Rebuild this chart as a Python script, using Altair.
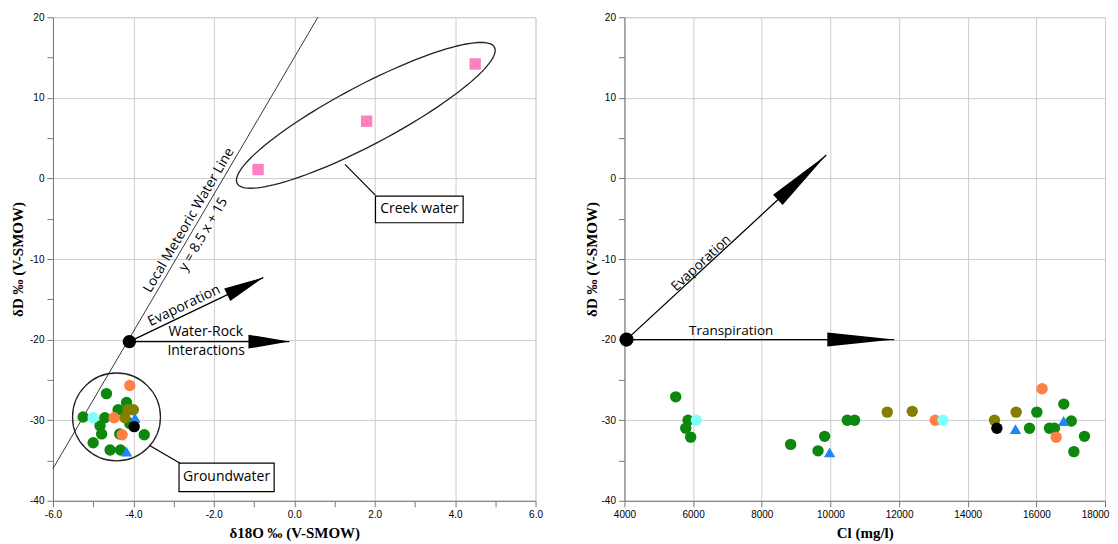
import math
import altair as alt
import pandas as pd

WL, WR, H = 483, 481, 484
LX = [-6, 6]
LY = [-40, 20]
RX = [4000, 18000]
RY = [-40, 20]

# ---------------- left panel data: d18O vs dD ----------------
creek_o18 = [-0.9, 1.8, 4.5]
creek_dD = [1.1, 7.1, 14.2]

gw_o18 = [-4.67, -4.17, -4.38, -5.25, -4.71, -4.83, -4.09, -4.79, -4.34, -3.73, -5.0, -4.58, -4.32,
          -4.09, -4.48, -4.28,
          -4.13, -4.0, -4.21,
          -5.0,
          -3.96, -4.17,
          -3.98]
gw_dD = [-26.7, -27.8, -28.7, -29.6, -29.7, -30.7, -30.4, -31.7, -31.7, -31.8, -32.8, -33.7, -33.7,
         -25.7, -29.7, -31.8,
         -28.7, -28.7, -29.7,
         -29.7,
         -29.7, -33.9,
         -30.8]
gw_grp = ["green"] * 13 + ["orange"] * 3 + ["olive"] * 3 + ["cyan"] + ["blue"] * 2 + ["black"]

# ---------------- right panel data: Cl vs dD ----------------
cl_vals = [5494, 5854, 5785, 5930, 10492, 10705, 9832, 8842, 9640, 16014, 16800, 15800, 16382, 16527, 17019, 17402, 17093,
           13054, 16167, 16577,
           11656, 12385, 14780, 15412,
           6096, 13278,
           9977, 15392, 16795,
           14850]
cl_dD = [-27.1, -30.0, -31.0, -32.1, -30.0, -30.0, -32.0, -33.0, -33.8, -29.0, -28.0, -31.0, -31.0, -31.0, -30.1, -32.0, -33.9,
         -30.0, -26.1, -32.1,
         -29.0, -28.9, -30.0, -29.0,
         -30.0, -30.0,
         -34.0, -31.1, -30.1,
         -31.0]
cl_grp = ["green"] * 17 + ["orange"] * 3 + ["olive"] * 4 + ["cyan"] * 2 + ["blue"] * 3 + ["black"]

groups = ["creek", "green", "orange", "olive", "cyan", "blue", "black"]
group_colors = ["#ff80c0", "#0e870e", "#ff7f45", "#857f00", "#80ffff", "#1e88f5", "#000000"]
group_shapes = ["square", "circle", "circle", "circle", "circle", "triangle-up", "circle"]

# ---------------- annotations ----------------
mwl_slope, mwl_icpt = 8.5, 15
origin_left = [-4.1, -20.25]
evap_tip_left = [-0.77, -12.3]
wr_tip_left = [-0.12, -20.25]
origin_right = [4060, -20.0]
evap_tip_right = [9880, 2.9]
trans_tip_right = [11860, -20.0]

ellipse_center = [1.78, 7.83]
ellipse_axes_px = [145.7, 29.5]
ellipse_tilt_deg = 27.9
gw_circle_center = [-4.42, -29.6]
gw_circle_radius_px = 44

creek_leader = [1.262, 1.74, 2.016, -2.07]
creek_box = [2.02, -2.19, 4.2, -5.5]
gw_leader = [-3.586, -33.18, -2.839, -35.33]
gw_box = [-2.865, -35.33, -0.5, -38.85]

ANN_FONT = "Open Sans"


def px_angle(p0, p1, xd, yd, w):
    dx = (p1[0] - p0[0]) / (xd[1] - xd[0]) * w
    dy = -(p1[1] - p0[1]) / (yd[1] - yd[0]) * H
    return math.degrees(math.atan2(dy, dx)) % 360


def head(tip, ang, length, half):
    r = half / length
    path = f"M0,0L-1,{-r:.4f}L-1,{r:.4f}Z"
    df = pd.DataFrame({"x": [tip[0]], "y": [tip[1]]})
    return alt.Chart(df).mark_point(shape=path, size=(2 * length) ** 2, angle=ang, filled=True,
                                    color="black", opacity=1, strokeWidth=0).encode(x="x:Q", y="y:Q")


def seg(p0, p1, sw=1.2):
    df = pd.DataFrame({"x": [p0[0]], "y": [p0[1]], "x2": [p1[0]], "y2": [p1[1]]})
    return alt.Chart(df).mark_rule(color="black", strokeWidth=sw).encode(x="x:Q", y="y:Q", x2="x2:Q", y2="y2:Q")


def label(x, y, txt, ang=0, size=14):
    df = pd.DataFrame({"x": [x], "y": [y], "t": [txt]})
    return alt.Chart(df).mark_text(font=ANN_FONT, fontSize=size, color="black", angle=ang).encode(
        x="x:Q", y="y:Q", text="t:N")


def box(b):
    df = pd.DataFrame({"x": [b[0]], "y": [b[1]], "x2": [b[2]], "y2": [b[3]]})
    return alt.Chart(df).mark_rect(fill="white", stroke="black", strokeWidth=1.2).encode(
        x="x:Q", y="y:Q", x2="x2:Q", y2="y2:Q")


def dot(p, size):
    df = pd.DataFrame({"x": [p[0]], "y": [p[1]]})
    return alt.Chart(df).mark_point(shape="circle", size=size, filled=True, color="black", opacity=1).encode(
        x="x:Q", y="y:Q")


axis_common = dict(labelFont="Liberation Sans", labelFontSize=10, labelColor="black", labelFlush=False,
                   titleFont="Liberation Serif", titleFontSize=15, titleFontWeight="bold", titleColor="black",
                   domainColor="#777777", tickColor="#777777", tickSize=6, gridColor="#cccccc", labelPadding=3)

xl = alt.X("x:Q", scale=alt.Scale(domain=LX, nice=False, zero=False),
           axis=alt.Axis(values=list(range(-6, 7)), title="δ18O ‰ (V-SMOW)", titlePadding=6,
                         labelExpr="datum.value % 2 == 0 ? (datum.value < 0 ? '-' : '') + format(abs(datum.value), '.1f') : ''",
                         gridOpacity={"condition": {"test": "datum.value % 2 == 0", "value": 1}, "value": 0},
                         **axis_common))
yl = alt.Y("y:Q", scale=alt.Scale(domain=LY, nice=False, zero=False),
           axis=alt.Axis(values=list(range(-40, 21, 5)), title="δD ‰ (V-SMOW)", titlePadding=4,
                         labelExpr="datum.value % 10 == 0 ? toString(datum.value) : ''",
                         gridOpacity={"condition": {"test": "datum.value % 10 == 0", "value": 1}, "value": 0},
                         **axis_common))

left_df = pd.DataFrame({"x": creek_o18 + gw_o18, "y": creek_dD + gw_dD, "grp": ["creek"] * 3 + gw_grp})
color_enc = alt.Color("grp:N", scale=alt.Scale(domain=groups, range=group_colors), legend=None)
shape_enc = alt.Shape("grp:N", scale=alt.Scale(domain=groups, range=group_shapes), legend=None)

left_pts = alt.Chart(left_df).mark_point(filled=True, size=130, opacity=1, strokeWidth=0).encode(
    x=xl, y=yl, color=color_enc, shape=shape_enc)

mwl_x = [LX[0], (LY[1] - mwl_icpt) / mwl_slope]
mwl_df = pd.DataFrame({"x": mwl_x, "y": [mwl_slope * v + mwl_icpt for v in mwl_x]})
mwl = alt.Chart(mwl_df).mark_line(color="#222222", strokeWidth=0.9).encode(x="x:Q", y="y:Q")
mwl_ang = px_angle((mwl_x[0], mwl_df.y[0]), (mwl_x[1], mwl_df.y[1]), LX, LY, WL)

a, b = ellipse_axes_px
ratio = b / a
pts = [(math.cos(2 * math.pi * k / 120), ratio * math.sin(2 * math.pi * k / 120)) for k in range(120)]
ell_path = "M" + "L".join(f"{px:.4f},{py:.4f}" for px, py in pts) + "Z"
ell_df = pd.DataFrame({"x": [ellipse_center[0]], "y": [ellipse_center[1]]})
ellipse = alt.Chart(ell_df).mark_point(shape=ell_path, size=(2 * a) ** 2, angle=360 - ellipse_tilt_deg, filled=False,
                                       color="#222222", strokeWidth=1.3, opacity=1).encode(x="x:Q", y="y:Q")

gwc_df = pd.DataFrame({"x": [gw_circle_center[0]], "y": [gw_circle_center[1]]})
gw_circle = alt.Chart(gwc_df).mark_point(shape="circle", size=(2 * gw_circle_radius_px) ** 2, filled=False,
                                         color="#222222", strokeWidth=1.3, opacity=1).encode(x="x:Q", y="y:Q")

evl_ang = px_angle(origin_left, evap_tip_left, LX, LY, WL)
wr_ang = px_angle(origin_left, wr_tip_left, LX, LY, WL)

left = alt.layer(
    mwl,
    ellipse,
    seg(creek_leader[:2], creek_leader[2:]),
    box(creek_box),
    label((creek_box[0] + creek_box[2]) / 2, (creek_box[1] + creek_box[3]) / 2, "Creek water"),
    gw_circle,
    seg(gw_leader[:2], gw_leader[2:]),
    box(gw_box),
    label((gw_box[0] + gw_box[2]) / 2, (gw_box[1] + gw_box[3]) / 2, "Groundwater"),
    left_pts,
    seg(origin_left, evap_tip_left, 1.3),
    head(evap_tip_left, evl_ang, 40, 7),
    seg(origin_left, wr_tip_left, 1.3),
    head(wr_tip_left, wr_ang, 41, 7),
    dot(origin_left, 180),
    label(-2.62, -5.2, "Local Meteoric Water Line", mwl_ang, 13.7),
    label(-2.26, -6.95, "y = 8.5 x + 15", mwl_ang, 13.7),
    label(-2.74, -15.8, "Evaporation", evl_ang, 14),
    label(-2.2, -19.05, "Water-Rock", 0, 14),
    label(-2.19, -21.4, "Interactions", 0, 14),
).properties(width=WL, height=H)

xr = alt.X("x:Q", scale=alt.Scale(domain=RX, nice=False, zero=False),
           axis=alt.Axis(values=list(range(4000, 18001, 1000)), title="Cl (mg/l)", titlePadding=6,
                         labelExpr="datum.value % 2000 == 0 ? toString(datum.value) : ''",
                         gridOpacity={"condition": {"test": "datum.value % 2000 == 0", "value": 1}, "value": 0},
                         labelOffset={"condition": {"test": "datum.value == 18000", "value": -10}, "value": 0},
                         **axis_common))
yr = alt.Y("y:Q", scale=alt.Scale(domain=RY, nice=False, zero=False),
           axis=alt.Axis(values=list(range(-40, 21, 5)), title="δD ‰ (V-SMOW)", titlePadding=2,
                         labelExpr="datum.value % 10 == 0 ? toString(datum.value) : ''",
                         gridOpacity={"condition": {"test": "datum.value % 10 == 0", "value": 1}, "value": 0},
                         **axis_common))

right_df = pd.DataFrame({"x": cl_vals, "y": cl_dD, "grp": cl_grp})
right_pts = alt.Chart(right_df).mark_point(filled=True, size=130, opacity=1, strokeWidth=0).encode(
    x=xr, y=yr, color=color_enc, shape=shape_enc)

evr_ang = px_angle(origin_right, evap_tip_right, RX, RY, WR)
tr_ang = px_angle(origin_right, trans_tip_right, RX, RY, WR)

right = alt.layer(
    right_pts,
    seg(origin_right, evap_tip_right, 1.3),
    head(evap_tip_right, evr_ang, 66, 7),
    seg(origin_right, trans_tip_right, 1.3),
    head(trans_tip_right, tr_ang, 67, 7),
    dot(origin_right, 200),
    label(6236, -10.5, "Evaporation", evr_ang, 13.5),
    label(7108, -18.9, "Transpiration", 0, 13.5),
).properties(width=WR, height=H)

chart = alt.hconcat(left, right, spacing=40).properties(
    padding={"left": 2, "right": 0, "top": 3, "bottom": 2}
).configure_view(stroke="#555555", strokeWidth=1).configure(background="white")

chart.save("out.html", embed_options={"renderer": "svg", "actions": False})
